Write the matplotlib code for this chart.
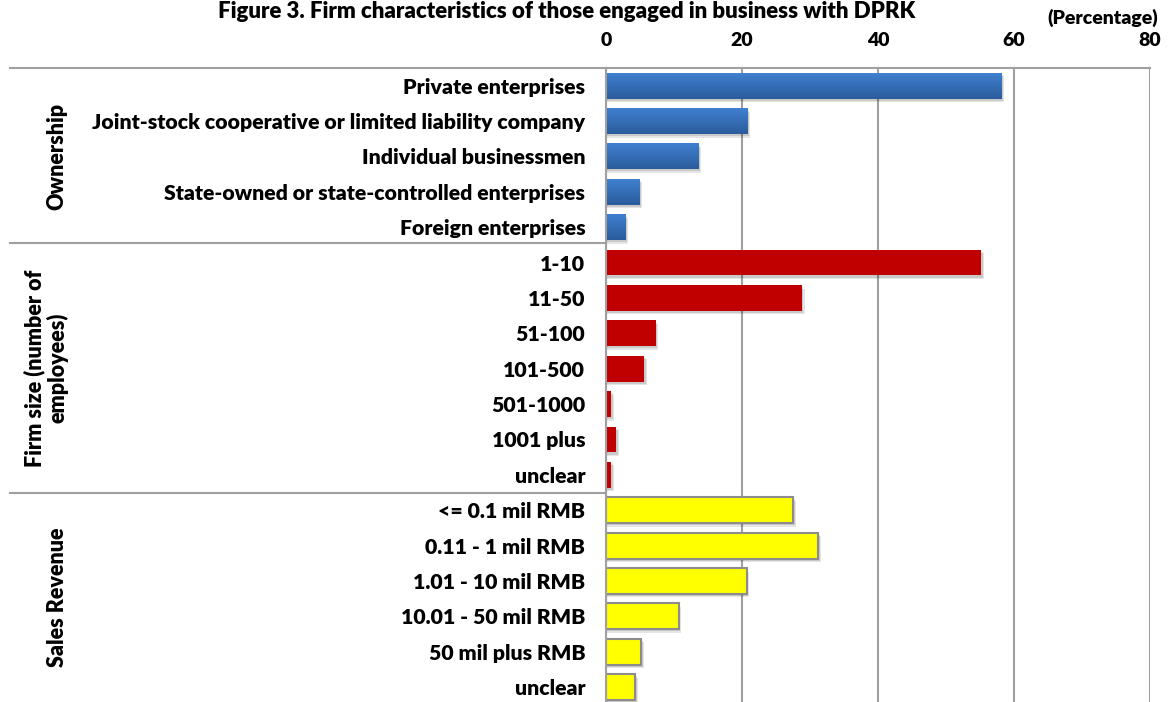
import numpy as np
import matplotlib
matplotlib.use('Agg')
import matplotlib.pyplot as plt
from matplotlib.colors import LinearSegmentedColormap
from matplotlib.lines import Line2D

plt.rcParams['font.family'] = ['Lato', 'DejaVu Sans']
plt.rcParams['font.weight'] = 'heavy'
W = 'heavy'

# ---- data (percent)
ownership = ['Private enterprises', 'Joint-stock cooperative or limited liability company',
             'Individual businessmen', 'State-owned or state-controlled enterprises',
             'Foreign enterprises']
ownership_vals = [58.2, 20.8, 13.6, 4.9, 2.85]

firm_size = ['1-10', '11-50', '51-100', '101-500', '501-1000', '1001 plus', 'unclear']
firm_size_vals = [55.2, 28.8, 7.3, 5.65, 0.8, 1.5, 0.8]

revenue = ['<= 0.1 mil RMB', '0.11 - 1 mil RMB', '1.01 - 10 mil RMB',
           '10.01 - 50 mil RMB', '50 mil plus RMB', 'unclear']
revenue_vals = [27.5, 31.2, 20.7, 10.7, 5.2, 4.3]

group_names = ['Ownership', 'Firm size (number of\nemployees)', 'Sales Revenue']
xticks = [0, 20, 40, 60, 80]

labels = ownership + firm_size + revenue
n = len(labels)
ypos = np.arange(n)
h = 0.73

fig = plt.figure(figsize=(11.68, 7.02), dpi=100)
ax = fig.add_axes([606/1168, -0.004, (1150-606)/1168, 1 - 68/702 + 0.004])

def shadow(y, v):
    for k, a in [(0.10, 0.10), (0.06, 0.12)]:
        ax.barh(y + k, v + k*4, height=h, left=0, color='black', alpha=a,
                zorder=1.5, linewidth=0)

# blue gradient bars
blue_cmap = LinearSegmentedColormap.from_list('b', ['#3f80d0', '#2b5c9c'])
grad = np.linspace(0, 1, 64).reshape(-1, 1)
for i, v in enumerate(ownership_vals):
    y = ypos[i]
    shadow(y, v)
    ax.imshow(grad, extent=[0, v, y - h/2, y + h/2], origin='lower',
              cmap=blue_cmap, aspect='auto', zorder=2, interpolation='bilinear')

# red bars
off = len(ownership)
for i, v in enumerate(firm_size_vals):
    shadow(ypos[off + i], v)
ax.barh(ypos[off:off + len(firm_size)], firm_size_vals, height=h,
        color='#c00000', zorder=2, linewidth=0)

# yellow bars
off2 = off + len(firm_size)
for i, v in enumerate(revenue_vals):
    shadow(ypos[off2 + i], v)
ax.barh(ypos[off2:], revenue_vals, height=h, color='#ffff00',
        edgecolor='#8c8c8c', linewidth=1.5, zorder=2)

ax.set_xlim(0, 80)
ax.set_ylim(n - 0.5, -0.5)
ax.xaxis.tick_top()
ax.set_xticks(xticks)
ax.set_xticklabels([str(t) for t in xticks], fontsize=14, fontweight=W)
ax.tick_params(axis='x', length=0, pad=14)
ax.set_yticks(ypos)
ax.set_yticklabels(labels, fontsize=15.3, fontweight=W)
ax.tick_params(axis='y', length=0, pad=15)
ax.grid(axis='x', color='#a0a0a0', linewidth=1.5, zorder=0)
ax.set_axisbelow(True)
for s in ['right', 'bottom']:
    ax.spines[s].set_visible(False)
ax.spines['left'].set_color('#a0a0a0')
ax.spines['left'].set_linewidth(1.5)
ax.spines['top'].set_color('#a0a0a0')
ax.spines['top'].set_linewidth(1.5)

# frame lines across label area
def fy(py):
    return 1 - py / 702
x0 = 10 / 1168
x1 = 606 / 1168
fig.add_artist(Line2D([x0, x1], [fy(68), fy(68)], color='#a0a0a0', lw=1.5))
for py in [243.5, 492.5]:
    fig.add_artist(Line2D([x0, x1], [fy(py), fy(py)], color='#a0a0a0', lw=1.5))

fig.text(57/1168, fy(156), group_names[0], rotation=90, ha='center', va='center',
         fontsize=15.5, fontweight=W)
fig.text(46/1168, fy(368), group_names[1], rotation=90, ha='center', va='center',
         fontsize=15.5, fontweight=W, linespacing=1.1)
fig.text(57/1168, fy(597), group_names[2], rotation=90, ha='center', va='center',
         fontsize=15.5, fontweight=W)

fig.text(567/1168, fy(0.5), 'Figure 3. Firm characteristics of those engaged in business with DPRK',
         ha='center', va='top', fontsize=16, fontweight=W)
fig.text(1103/1168, fy(18), '(Percentage)', ha='center', va='center',
         fontsize=14, fontweight=W)

fig.savefig('out.png', dpi=100)
